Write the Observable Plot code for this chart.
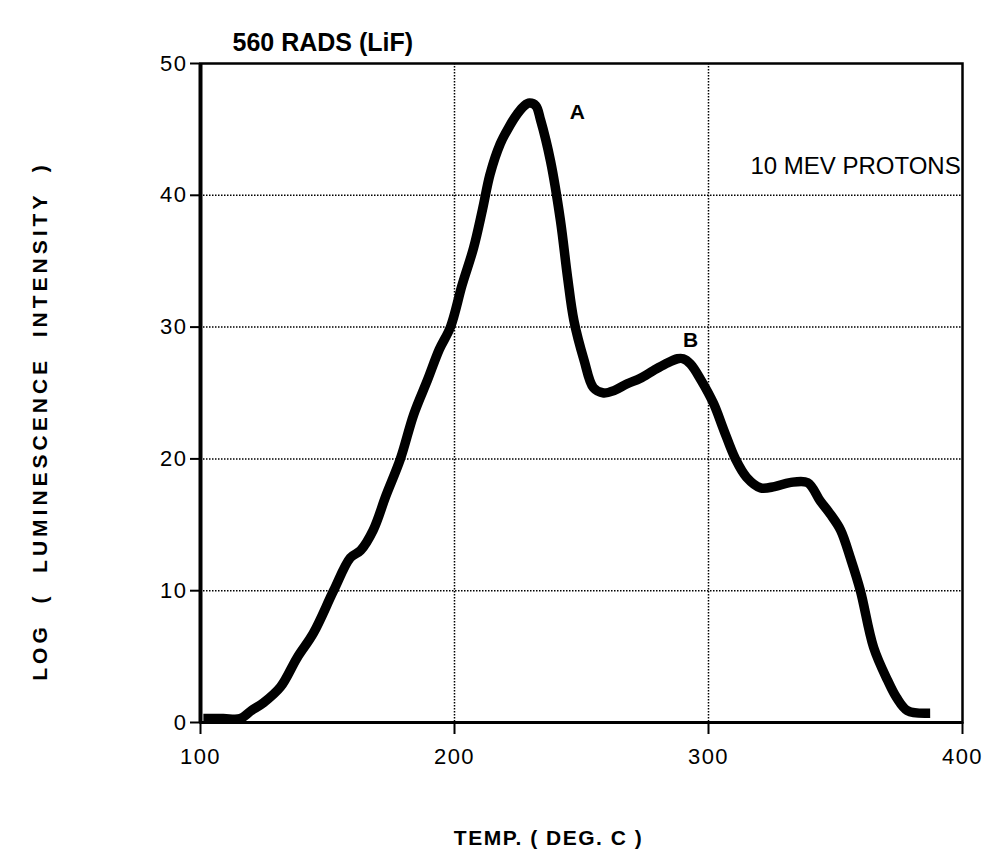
<!DOCTYPE html>
<html>
<head>
<meta charset="utf-8">
<script src="https://cdn.jsdelivr.net/npm/d3@7"></script>
<script src="https://cdn.jsdelivr.net/npm/@observablehq/plot@0.6"></script>
<style>
  html, body { margin: 0; padding: 0; background: #fff; }
  #chart { width: 987px; height: 859px; }
</style>
</head>
<body>
<div id="chart"></div>
<script>
// Glow curve: temperature (deg C) vs log luminescence intensity
const temps = [103, 109, 115.7, 120, 124.8, 131.5, 138, 144.5, 152.4, 159, 163, 168, 173, 178.7, 184, 189.4, 194, 198.4, 203, 207.5, 211, 214, 218, 221.5, 224.8, 227.5, 229.5, 232, 233.9, 237.8, 241.7, 244.5, 247, 251, 254.7, 258.7, 263, 268, 273, 278.3, 283, 287.8, 290, 292.9, 297, 302, 306, 310.6, 315, 320.5, 326, 332, 339, 344, 348, 352, 356, 359.8, 365, 370.5, 374, 378.3, 385.4];
const intensity = [0.3, 0.3, 0.3, 0.9, 1.5, 2.7, 4.9, 6.8, 10, 12.5, 13.05, 14.6, 17.2, 20, 23.4, 26, 28.3, 30, 33.2, 36, 38.9, 41.6, 43.9, 45.2, 46.2, 46.8, 47, 46.8, 45.7, 42.6, 38.1, 33.8, 30.5, 27.5, 25.4, 25, 25.2, 25.7, 26.1, 26.7, 27.2, 27.6, 27.6, 27.2, 26, 24.2, 22.2, 20, 18.6, 17.8, 17.9, 18.2, 18.2, 16.8, 15.8, 14.6, 12.4, 10, 5.7, 3.2, 1.9, 0.9, 0.7];

const xTicks = [100, 200, 300, 400];
const yTicks = [0, 10, 20, 30, 40, 50];
const xGrid = [200, 300];
const yGrid = [10, 20, 30, 40];

const titleText = "560 RADS (LiF)";
const xLabel = "TEMP. ( DEG. C )";
const yLabel = "LOG  (  LUMINESCENCE  INTENSITY  )";
const peakLabels = ["A", "B"];
const peakX = [248.4, 292.9];
const peakY = [46.3, 29.0];
const noteText = ["10 MEV PROTONS"];
const noteX = [357.9];
const noteY = [42.2];

const data = temps.map((t, i) => ({t, v: intensity[i]}));
const peaks = peakLabels.map((l, i) => ({l, x: peakX[i], y: peakY[i]}));
const notes = noteText.map((l, i) => ({l, x: noteX[i], y: noteY[i]}));

const chart = Plot.plot({
  width: 987,
  height: 859,
  marginLeft: 200,
  marginRight: 25,
  marginTop: 63,
  marginBottom: 137,
  style: {fontFamily: "'Liberation Sans', Arial, Helvetica, sans-serif", fontSize: "20px", color: "#000", background: "#fff"},
  x: {domain: [100, 400]},
  y: {domain: [0, 50]},
  marks: [
    Plot.ruleX(xGrid, {stroke: "#000", strokeWidth: 1.5, strokeDasharray: "1.5,1.5"}),
    Plot.ruleY(yGrid, {stroke: "#000", strokeWidth: 1.5, strokeDasharray: "1.5,1.5"}),
    Plot.frame({stroke: "#000", strokeWidth: 2.5}),
    Plot.ruleX([100], {stroke: "#000", strokeWidth: 4}),
    Plot.ruleY([0], {stroke: "#000", strokeWidth: 3}),
    Plot.axisY(yTicks, {ticks: yTicks, tickSize: 10, tickPadding: 3, label: null, tickFormat: d => String(d), fontSize: 22, strokeWidth: 2}),
    Plot.axisX(xTicks, {ticks: xTicks, tickSize: 12, tickPadding: 14, label: null, tickFormat: d => String(d), fontSize: 22, strokeWidth: 2}),
    Plot.line(data, {x: "t", y: "v", stroke: "#000", strokeWidth: 9.5, strokeLinejoin: "round", strokeLinecap: "square", curve: "catmull-rom"}),
    Plot.text(peaks, {x: "x", y: "y", text: "l", fontWeight: "bold", fontSize: 21, stroke: "#fff", strokeWidth: 6, fill: "#000"}),
    Plot.text(notes, {x: "x", y: "y", text: "l", fontSize: 24, fill: "#000"}),
    Plot.text([titleText], {frameAnchor: "top-left", dx: 32, dy: -30, fontWeight: "bold", fontSize: 25, textAnchor: "start"}),
    Plot.text([xLabel], {frameAnchor: "bottom", dx: -33, dy: 122, fontWeight: "bold", fontSize: 21, textAnchor: "middle"}),
    Plot.text([yLabel], {frameAnchor: "left", dx: -160, dy: 28, rotate: -90, fontWeight: "bold", fontSize: 21, textAnchor: "middle"})
  ]
});
// typography tweaks to match the reference
d3.select(chart).selectAll("text").each(function() {
  const t = this.textContent;
  const s = d3.select(this);
  if (t === yLabel) s.style("letter-spacing", "4px").style("white-space", "pre");
  else if (t === xLabel) s.style("letter-spacing", "1.5px");
  else if (/^\d+$/.test(t)) s.style("letter-spacing", "1.5px").style("font-size", "22px");
});
document.getElementById("chart").appendChild(chart);
</script>
</body>
</html>
